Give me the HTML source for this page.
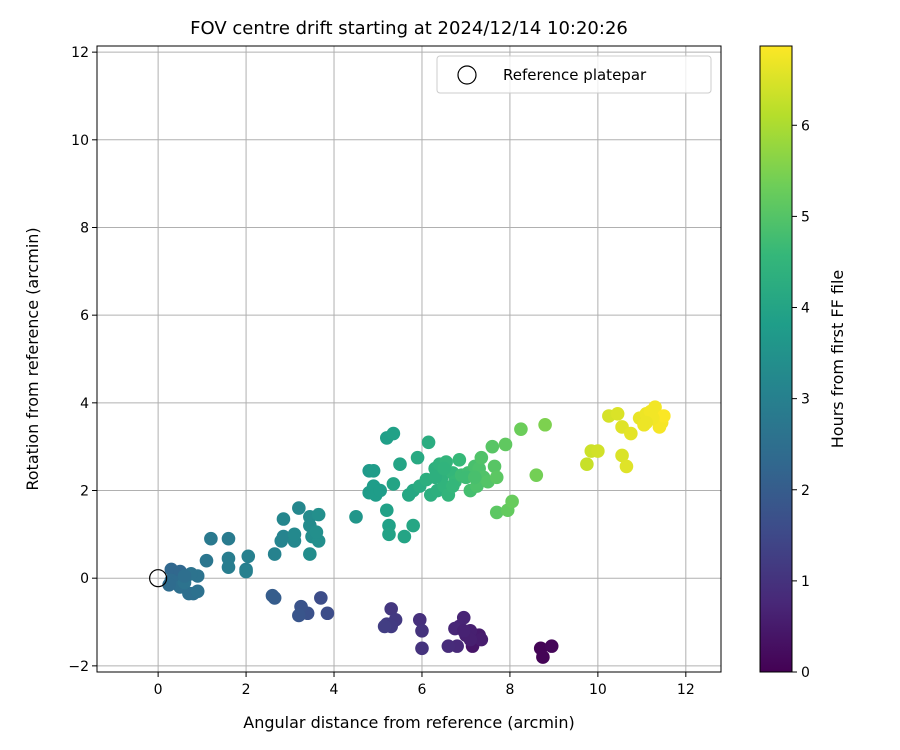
<!DOCTYPE html>
<html><head><meta charset="utf-8">
<style>body{margin:0;background:#fff}svg{display:block;font-family:"DejaVu Sans","Liberation Sans",sans-serif}</style>
</head><body>
<svg id="chart" width="900" height="750" viewBox="0 0 900 750" xmlns="http://www.w3.org/2000/svg"></svg>
<script>
const xTicks=[0,2,4,6,8,10,12];
const yTicks=[-2,0,2,4,6,8,10,12];
const cTicks=[0,1,2,3,4,5,6];
const xs=[8.7,8.75,8.95,7.15,7.2,7.3,7.35,7.1,7.0,6.95,6.85,6.75,6.8,6.6,7.1,6.95,5.95,6.0,6.0,5.3,5.4,5.2,5.3,5.15,
3.85,3.7,3.4,3.25,3.2,2.65,2.6,
0.3,0.5,0.3,0.4,0.5,0.7,0.8,0.9,0.9,0.75,0.6,0.25,0.6,
1.1,1.2,1.6,1.6,1.6,2.0,2.0,2.05,
2.65,2.8,2.85,2.85,3.2,3.1,3.1,3.45,3.45,3.5,3.45,3.65,3.65,3.6,
4.5,4.8,4.9,4.8,4.9,4.95,5.05,5.2,5.35,5.2,5.25,5.25,5.35,5.5,5.6,5.8,5.7,5.8,5.9,5.95,6.15,6.1,6.2,6.3,6.35,6.4,6.45,6.5,6.55,6.6,6.7,6.75,6.85,6.9,7.05,7.1,7.2,7.25,7.3,7.35,7.4,7.5,7.6,7.65,7.7,7.7,7.9,7.95,8.05,8.25,8.6,8.8,6.3,6.5,6.7,7.0,7.2,
9.75,9.85,10.0,10.25,10.45,10.55,10.55,10.65,10.75,10.95,11.05,11.1,11.2,11.3,11.35,11.4,11.45,11.5,11.25,11.1];
const ys=[-1.6,-1.8,-1.55,-1.55,-1.3,-1.3,-1.4,-1.2,-1.3,-0.9,-1.1,-1.15,-1.55,-1.55,-1.4,-1.2,-0.95,-1.2,-1.6,-0.7,-0.95,-1.05,-1.1,-1.1,
-0.8,-0.45,-0.8,-0.65,-0.85,-0.45,-0.4,
0.2,0.15,-0.05,-0.1,-0.2,-0.35,-0.35,-0.3,0.05,0.1,-0.1,-0.15,0.05,
0.4,0.9,0.9,0.45,0.25,0.2,0.15,0.5,
0.55,0.85,0.95,1.35,1.6,0.85,1.0,1.4,1.2,0.95,0.55,0.85,1.45,1.05,
1.4,2.45,2.45,1.95,2.1,1.9,2.0,3.2,3.3,1.55,1.2,1.0,2.15,2.6,0.95,1.2,1.9,2.0,2.75,2.1,3.1,2.25,1.9,2.5,2.0,2.6,2.3,2.1,2.65,1.9,2.4,2.2,2.7,2.35,2.4,2.0,2.55,2.1,2.5,2.75,2.3,2.2,3.0,2.55,1.5,2.3,3.05,1.55,1.75,3.4,2.35,3.5,2.3,2.5,2.1,2.3,2.3,
2.6,2.9,2.9,3.7,3.75,2.8,3.45,2.55,3.3,3.65,3.5,3.75,3.8,3.9,3.6,3.45,3.55,3.7,3.65,3.55];
const hours=[0.05,0.05,0.1,0.4,0.5,0.5,0.55,0.6,0.6,0.7,0.7,0.75,0.8,0.85,0.6,0.65,0.95,1.0,1.0,1.1,1.15,1.2,1.2,1.25,
1.6,1.6,1.7,1.75,1.8,2.0,2.0,
2.3,2.3,2.4,2.4,2.5,2.5,2.5,2.55,2.6,2.6,2.6,2.4,2.5,
2.7,2.8,2.85,2.9,2.9,2.95,3.0,3.0,
3.05,3.1,3.1,3.15,3.2,3.2,3.25,3.3,3.3,3.35,3.35,3.4,3.4,3.4,
3.6,3.7,3.75,3.75,3.8,3.8,3.8,3.85,3.9,3.9,3.9,3.95,4.0,4.0,4.0,4.05,4.1,4.1,4.15,4.2,4.25,4.3,4.3,4.35,4.35,4.4,4.4,4.45,4.5,4.5,4.55,4.6,4.6,4.7,4.75,4.8,4.85,4.9,4.9,4.95,4.95,5.0,5.05,5.05,5.1,5.1,5.15,5.2,5.25,5.3,5.4,5.5,4.35,4.45,4.55,4.7,4.85,
6.3,6.35,6.4,6.45,6.5,6.5,6.55,6.55,6.6,6.65,6.7,6.7,6.75,6.75,6.8,6.8,6.8,6.85,6.75,6.7];
const NS="http://www.w3.org/2000/svg";
const svg=document.getElementById('chart');
const L=97,R=721,T=46,B=672;
const xmin=-1.39,xmax=12.8,ymin=-2.14,ymax=12.14,cmax=6.87;
const sx=v=>L+(v-xmin)/(xmax-xmin)*(R-L);
const sy=v=>B-(v-ymin)/(ymax-ymin)*(B-T);
const CT=46,CB=672,CL=760,CR=792;
const sc=v=>CB-v/cmax*(CB-CT);
const vir=[[68,1,84],[72,40,120],[62,74,137],[49,104,142],[38,130,142],[31,158,137],[53,183,121],[110,206,88],[181,222,43],[253,231,37]];
function viridis(t){t=Math.max(0,Math.min(1,t));const p=t*(vir.length-1),i=Math.min(Math.floor(p),vir.length-2),f=p-i;
const c=vir[i].map((a,k)=>Math.round(a+(vir[i+1][k]-a)*f));return `rgb(${c[0]},${c[1]},${c[2]})`;}
function el(tag,attrs,parent){const e=document.createElementNS(NS,tag);for(const k in attrs)e.setAttribute(k,attrs[k]);(parent||svg).appendChild(e);return e;}
xTicks.forEach(v=>{const g=el('line',{x1:sx(v),x2:sx(v),y1:T,y2:B,stroke:'#b0b0b0','stroke-width':1});

const t=el('line',{x1:sx(v),x2:sx(v),y1:B,y2:B+5,stroke:'#000'});
const l=el('text',{x:sx(v),y:B+22,'text-anchor':'middle','font-size':14});l.textContent=v;
});
yTicks.forEach(v=>{const g=el('line',{x1:L,x2:R,y1:sy(v),y2:sy(v),stroke:'#b0b0b0','stroke-width':1});

const t=el('line',{x1:L-5,x2:L,y1:sy(v),y2:sy(v),stroke:'#000'});
const l=el('text',{x:L-8,y:sy(v)+5,'text-anchor':'end','font-size':14});l.textContent=v<0?'\u2212'+(-v):v;
});
xs.forEach((x,i)=>{const c=el('circle',{cx:sx(x),cy:sy(ys[i]),r:6.8,fill:viridis(hours[i]/cmax)});
});
const ref=el('circle',{cx:sx(0),cy:sy(0),r:8.5,fill:'none',stroke:'#000','stroke-width':1.2});

const fr=el('rect',{x:L,y:T,width:R-L,height:B-T,fill:'none',stroke:'#000','stroke-width':1});

const lg=el('g',{});
el('rect',{x:437,y:56,width:274,height:37,rx:3,fill:'#fff','fill-opacity':0.8,stroke:'#ccc'},lg);
el('circle',{cx:467,cy:75,r:9,fill:'none',stroke:'#000','stroke-width':1.2},lg);
const lt=el('text',{x:503,y:80,'font-size':15},lg);lt.textContent='Reference platepar';
const tt=el('text',{x:409,y:34,'text-anchor':'middle','font-size':18});tt.textContent='FOV centre drift starting at 2024/12/14 10:20:26';

const xl=el('text',{x:409,y:728,'text-anchor':'middle','font-size':16});xl.textContent='Angular distance from reference (arcmin)';

const yl=el('text',{x:0,y:0,'text-anchor':'middle','font-size':16,transform:`translate(38,${(T+B)/2}) rotate(-90)`});yl.textContent='Rotation from reference (arcmin)';

const defs=el('defs',{});const gr=el('linearGradient',{id:'vg',x1:0,y1:1,x2:0,y2:0},defs);
vir.forEach((c,i)=>el('stop',{offset:i/(vir.length-1),'stop-color':`rgb(${c})`},gr));
const cb=el('rect',{x:CL,y:CT,width:CR-CL,height:CB-CT,fill:'url(#vg)',stroke:'#000','stroke-width':1});

cTicks.forEach(v=>{const t=el('line',{x1:CR,x2:CR+5,y1:sc(v),y2:sc(v),stroke:'#000'});
const l=el('text',{x:CR+9,y:sc(v)+5,'font-size':14});l.textContent=v;});
const cl=el('text',{x:0,y:0,'text-anchor':'middle','font-size':16,transform:`translate(843,${(CT+CB)/2}) rotate(-90)`});cl.textContent='Hours from first FF file';

</script>
</body></html>
